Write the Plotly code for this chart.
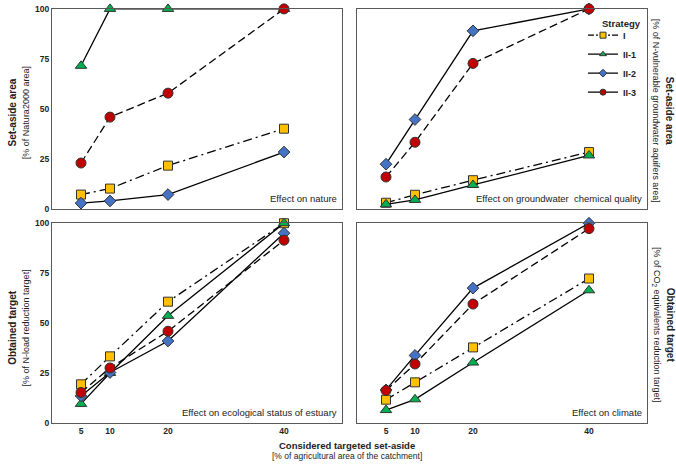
import plotly.graph_objects as go

# ---------------- data ----------------
x_vals = [5, 10, 20, 40]
x_ticks = [5, 10, 20, 40]
y_ticks = [0, 25, 50, 75, 100]
strategies = ["I", "II-1", "II-2", "II-3"]

# Effect on nature: set-aside area [% of Natura2000 area]
nature_I = [7, 10, 21.5, 40]
nature_II1 = [71.5, 100, 100, 100]
nature_II2 = [2.7, 3.8, 7, 28.3]
nature_II3 = [22.8, 45.8, 57.8, 100]

# Effect on groundwater chemical quality: [% of N-vulnerable groundwater aquifers area]
ground_I = [2.9, 6.9, 14.2, 28.3]
ground_II1 = [2.1, 4.3, 11.8, 26.6]
ground_II2 = [22.2, 44.6, 89, 100]
ground_II3 = [15.8, 33.2, 72.7, 100]

# Effect on ecological status of estuary: [% of N-load reduction target]
estuary_I = [19.3, 33.3, 60.7, 100]
estuary_II1 = [9.5, 25, 53.6, 100]
estuary_II2 = [13.5, 25.2, 41, 95]
estuary_II3 = [15.2, 27.5, 45.9, 91.5]

# Effect on climate: [% of CO2 equivalents reduction target]
climate_I = [11.6, 20.3, 37.8, 72.3]
climate_II1 = [6.4, 11.8, 30.2, 66.4]
climate_II2 = [16.5, 33.8, 67.5, 100]
climate_II3 = [16.2, 29.5, 59.5, 97.3]

panels = [
    ("x", "y", [nature_I, nature_II1, nature_II2, nature_II3], "Effect on nature"),
    ("x2", "y2", [ground_I, ground_II1, ground_II2, ground_II3], "Effect on groundwater  chemical quality"),
    ("x3", "y3", [estuary_I, estuary_II1, estuary_II2, estuary_II3], "Effect on ecological status of estuary"),
    ("x4", "y4", [climate_I, climate_II1, climate_II2, climate_II3], "Effect on climate"),
]

# ---------------- styles ----------------
FONT = "Arial, Liberation Sans, sans-serif"
TXT = "#222222"
styles = {
    "I": dict(symbol="square", color="#FFC000", size=9, dash="9px,4px,2px,4px"),
    "II-1": dict(symbol="triangle-up", color="#00B050", size=10, dash="solid"),
    "II-2": dict(symbol="diamond", color="#4472C4", size=9, dash="solid"),
    "II-3": dict(symbol="circle", color="#C00000", size=10, dash="8px,4px"),
}

fig = go.Figure()

for xa, ya, series, label in panels:
    for name, vals in zip(strategies, series):
        st = styles[name]
        fig.add_trace(go.Scatter(
            x=x_vals, y=vals, xaxis=xa, yaxis=ya, mode="lines+markers",
            name=name, showlegend=False, cliponaxis=False,
            line=dict(color="#000000", width=1.3, dash=st["dash"]),
            marker=dict(symbol=st["symbol"], size=st["size"], color=st["color"],
                        line=dict(color="#333333", width=1)),
        ))

# legend-only entries (small markers, like the reference)
for name in strategies:
    st = styles[name]
    fig.add_trace(go.Scatter(
        x=[None], y=[None], xaxis="x2", yaxis="y2", mode="lines+markers", name=name,
        line=dict(color="#000000", width=1.3, dash="6px,2px,2px,2px" if name == "I" else "solid"),
        marker=dict(symbol=st["symbol"], size=6, color=st["color"],
                    line=dict(color="#333333", width=1)),
    ))

W, H = 676, 467
xl = [52 / W, 342 / W]
xr = [357 / W, 647 / W]
yt = [1 - 208 / H, 1 - 4 / H]
yb = [1 - 427 / H, 1 - 223 / H]

axis_common = dict(range=[0, 50], showgrid=False, zeroline=False, showline=True,
                   linecolor="#595959", linewidth=1.2, mirror=True, ticks="")
yaxis_common = dict(range=[0, 100], showgrid=False, zeroline=False, showline=True,
                    linecolor="#595959", linewidth=1.2, mirror=True, ticks="",
                    tickvals=y_ticks)
tickfont = dict(family=FONT, size=8.5, color=TXT, weight="bold")

fig.update_layout(
    width=W, height=H,
    margin=dict(l=0, r=0, t=0, b=0),
    paper_bgcolor="white", plot_bgcolor="white",
    font=dict(family=FONT, color=TXT),
    xaxis=dict(domain=xl, anchor="y", showticklabels=False, **axis_common),
    xaxis2=dict(domain=xr, anchor="y2", showticklabels=False, **axis_common),
    xaxis3=dict(domain=xl, anchor="y3", tickvals=x_ticks, tickfont=tickfont, **axis_common),
    xaxis4=dict(domain=xr, anchor="y4", tickvals=x_ticks, tickfont=tickfont, **axis_common),
    yaxis=dict(domain=yt, anchor="x", tickfont=tickfont, **yaxis_common),
    yaxis2=dict(domain=yt, anchor="x2", showticklabels=False, **yaxis_common),
    yaxis3=dict(domain=yb, anchor="x3", tickfont=tickfont, **yaxis_common),
    yaxis4=dict(domain=yb, anchor="x4", showticklabels=False, **yaxis_common),
    legend=dict(
        x=583 / W, y=1 - 16 / H, xanchor="left", yanchor="top",
        bgcolor="rgba(0,0,0,0)", font=dict(family=FONT, size=9, color=TXT, weight="bold"),
        itemwidth=30, tracegroupgap=0, traceorder="normal",
    ),
)

ann = []
# panel labels
for xa, ya, series, label in panels:
    ann.append(dict(text=label, xref=xa + " domain", yref=ya + " domain",
                    x=0.99, y=0.015, xanchor="right", yanchor="bottom", showarrow=False,
                    font=dict(family=FONT, size=9.5, color=TXT)))

SUB = "<span style='font-size:9px;font-weight:normal'>%s</span>"
others = [
    dict(text="<b>Strategy</b>", x=621 / W, y=1 - 19 / H, font=dict(size=9.5)),
    # left y titles (two lines each)
    dict(text="<b>Set-aside area</b><br>" + SUB % "[% of Natura2000 area]",
         x=18.5 / W, y=1 - 110 / H, textangle=-90, font=dict(size=10)),
    dict(text="<b>Obtained target</b><br>" + SUB % "[% of N-load reduction target]",
         x=18.5 / W, y=1 - 330 / H, textangle=-90, font=dict(size=10)),
    # right titles
    dict(text="<b>Set-aside area</b><br>" + SUB % "[% of N-vulnerable groundwater aquifers area]",
         x=663 / W, y=1 - 108 / H, textangle=90, font=dict(size=10)),
    dict(text="<b>Obtained target</b><br>" + SUB % "[% of CO<sub>2</sub> equivalents reduction target]",
         x=663 / W, y=1 - 327 / H, textangle=90, font=dict(size=10)),
    # x title
    dict(text="<b>Considered targeted set-aside</b>", x=347 / W, y=1 - 450 / H,
         font=dict(size=9.5)),
    dict(text="[% of agricultural area of the catchment]", x=347 / W, y=1 - 461 / H,
         font=dict(size=8.5)),
]
for a in others:
    a["xref"] = "paper"
    a["yref"] = "paper"
    a["showarrow"] = False
    a["xanchor"] = "center"
    a["yanchor"] = "middle"
    a["font"] = dict(family=FONT, color=TXT, **a["font"])
ann += others

fig.update_layout(annotations=ann)
fig.write_html(
    "out.html",
    config={"displayModeBar": False},
    post_script="document.body.style.margin='0';document.body.style.overflow='hidden';",
)
